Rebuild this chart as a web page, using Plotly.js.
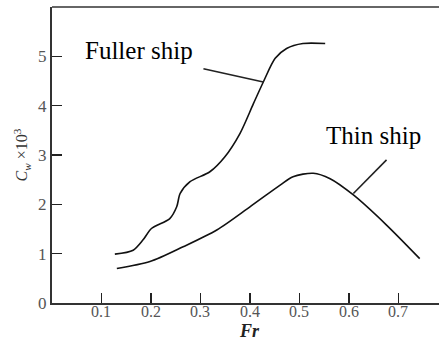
<!DOCTYPE html>
<html><head><meta charset="utf-8">
<script src="https://cdn.plot.ly/plotly-3.0.1.min.js"></script>
<style>html,body{margin:0;padding:0;background:#fff}#c{width:439px;height:340px}</style>
</head><body><div id="c"></div>
<script>
// Fuller ship
var fullerFr = [0.127, 0.164, 0.184, 0.201, 0.238, 0.252, 0.259, 0.279, 0.319, 0.349, 0.380, 0.407, 0.427, 0.451, 0.474, 0.507, 0.552];
var fullerCw = [0.99, 1.07, 1.28, 1.51, 1.71, 1.95, 2.22, 2.46, 2.66, 2.96, 3.44, 4.04, 4.48, 4.96, 5.16, 5.26, 5.26];
// Thin ship
var thinFr = [0.131, 0.198, 0.265, 0.333, 0.400, 0.461, 0.487, 0.528, 0.562, 0.609, 0.676, 0.743];
var thinCw = [0.70, 0.84, 1.14, 1.48, 1.95, 2.39, 2.56, 2.63, 2.52, 2.19, 1.58, 0.90];
// labels and leader lines
var labelText = ["Fuller ship", "Thin ship"];
var labelFr = [0.176, 0.650];
var labelCw = [5.11, 3.40];
var leaderFr0 = [0.306, 0.609], leaderCw0 = [4.75, 2.22];
var leaderFr1 = [0.427, 0.676], leaderCw1 = [4.48, 2.90];
var xTicks = [0.1, 0.2, 0.3, 0.4, 0.5, 0.6, 0.7];
var yTicks = [0, 1, 2, 3, 4, 5];
var xTitle = "<b><i>Fr</i></b>";
var yTitle = "<i>C<sub>w</sub></i> ×10<sup>3</sup>";

var serif = "Liberation Serif, Times New Roman, serif";
var traces = [
  {x: fullerFr, y: fullerCw, mode: "lines", line: {color: "#111", width: 1.6, shape: "spline", smoothing: 0.8}, hoverinfo: "skip"},
  {x: thinFr, y: thinCw, mode: "lines", line: {color: "#111", width: 1.6, shape: "spline", smoothing: 0.8}, hoverinfo: "skip"}
];
var shapes = [];
for (var i = 0; i < labelText.length; i++) {
  shapes.push({type: "line", xref: "x", yref: "y", x0: leaderFr0[i], y0: leaderCw0[i], x1: leaderFr1[i], y1: leaderCw1[i], line: {color: "#222", width: 1.6}});
}
shapes.push({type: "line", xref: "paper", yref: "paper", x0: 0, x1: 1, y0: 1, y1: 1, line: {color: "#666", width: 2}});
var annotations = labelText.map(function (t, i) {
  return {x: labelFr[i], y: labelCw[i], xref: "x", yref: "y", text: t, showarrow: false, font: {family: serif, size: 25, color: "#000"}};
});
xTicks.forEach(function (v) {
  annotations.push({x: v, y: 0, xref: "x", yref: "paper", text: String(v), showarrow: false, yanchor: "middle", yshift: -8, borderpad: 0,
    font: {family: serif, size: 16, color: "#555"}});
});
annotations.push({x: 0.4, y: 0, xref: "x", yref: "paper", text: xTitle, showarrow: false, yanchor: "middle", yshift: -28, borderpad: 0,
  font: {family: serif, size: 18, color: "#222"}});
var layout = {
  width: 439, height: 340,
  margin: {l: 52, r: 0, t: 7, b: 37, pad: 0},
  paper_bgcolor: "#fff", plot_bgcolor: "#fff",
  showlegend: false,
  font: {family: serif, color: "#333"},
  xaxis: {range: [0, 0.782], tickvals: xTicks, showticklabels: false, ticks: "inside", ticklen: 10, tickwidth: 1.5, tickcolor: "#222",
    showline: true, linecolor: "#333", linewidth: 2, showgrid: false, zeroline: false},
  yaxis: {range: [0, 6], tickvals: yTicks, ticktext: yTicks.map(String), ticks: "inside", ticklen: 10, tickwidth: 1.5, tickcolor: "#222",
    showline: true, linecolor: "#333", linewidth: 2, showgrid: false, zeroline: false, tickfont: {family: serif, size: 17, color: "#555"},
    title: {text: yTitle, font: {family: serif, size: 16, color: "#333"}, standoff: 6}},
  shapes: shapes,
  annotations: annotations
};
Plotly.newPlot("c", traces, layout, {staticPlot: true, displayModeBar: false});
</script></body></html>
